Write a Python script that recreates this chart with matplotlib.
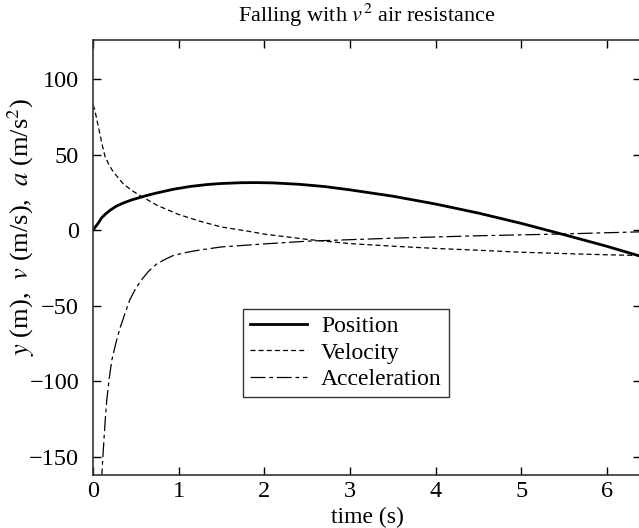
import numpy as np
import matplotlib
matplotlib.use("Agg")
import matplotlib.pyplot as plt

# values
pos_t = [0, 0.03, 0.06, 0.1, 0.15, 0.2, 0.27, 0.35, 0.45, 0.55, 0.65, 0.75, 0.94, 1.13,
         1.33, 1.5, 1.72, 1.9, 2.1, 2.4, 2.7, 3.0, 3.5, 4.0, 4.5, 5.0, 5.5, 6.0, 6.4]
pos_y = [0, 2.4, 4.6, 8.2, 11.0, 13.3, 15.9, 18.0, 20.1, 21.8, 23.4, 24.8, 27.2, 29.0,
         30.3, 31.0, 31.5, 31.6, 31.4, 30.5, 29.0, 26.8, 22.6, 17.4, 11.4, 4.6, -2.9, -10.6, -17.3]

vel_t = [0, 0.02, 0.05, 0.08, 0.11, 0.14, 0.19, 0.24, 0.35, 0.45, 0.55, 0.75, 1.0, 1.25,
         1.5, 1.8, 2.0, 2.5, 3.0, 3.5, 4.0, 4.5, 5.0, 5.5, 6.0, 6.4]
vel_v = [83, 80, 72, 64, 56, 49, 43, 38.5, 31, 26.5, 23, 16.5, 10.5, 6.0,
         2.2, -0.5, -2.5, -6.0, -8.8, -10.5, -12.0, -13.2, -14.5, -15.4, -16.2, -16.7]

acc_t = [0.09, 0.1, 0.11, 0.12, 0.14, 0.16, 0.19, 0.22, 0.27, 0.32, 0.38, 0.43, 0.49, 0.55,
         0.65, 0.75, 0.85, 0.94, 1.1, 1.25, 1.5, 2.0, 2.5, 3.0, 3.5, 4.0, 4.5, 5.0, 5.5, 6.0, 6.4]
acc_a = [-185, -165, -155, -146, -128, -113, -98, -86, -74, -64, -54, -46, -39.5, -34,
         -27, -22, -19, -16.6, -14.5, -13.0, -11.0, -9.0, -7.2, -6.2, -5.2, -4.4, -3.6, -3.0,
         -2.4, -1.6, -1.0]

xticks = [0, 1, 2, 3, 4, 5, 6]
yticks = [-150, -100, -50, 0, 50, 100]

plt.rcParams['font.family'] = ['Liberation Serif', 'DejaVu Serif']
plt.rcParams['mathtext.fontset'] = 'stix'

fig = plt.figure(figsize=(6.39, 5.28), dpi=100)
ax = fig.add_axes([0.1455, 0.1004, 0.858, 0.8238])

ax.plot(pos_t, pos_y, color='black', lw=2.0, label='Position')
ax.plot(vel_t, vel_v, color='black', lw=0.9, dashes=(4, 2.5), label='Velocity')
ax.plot(acc_t, acc_a, color='black', lw=0.9, dashes=(12, 3, 3, 3), label='Acceleration')

ax.set_xlim(0, 6.4)
ax.set_ylim(-162, 126)
ax.set_xticks(xticks)
ax.set_yticks(yticks)
ax.set_yticklabels([str(v).replace('-', '\u2212') for v in yticks])
ax.tick_params(direction='in', top=True, right=True, length=6, width=1, labelsize=17.5)
ax.tick_params(axis='x', pad=4)
ax.tick_params(axis='y', pad=10)
for s in ax.spines.values():
    s.set_color('#333333')
    s.set_linewidth(1.2)

ax.set_title('Falling with $v^2$ air resistance', fontsize=16, pad=13)
ax.set_xlabel('time (s)', fontsize=17, labelpad=4)
ax.set_ylabel(r'$y$ (m),  $v$ (m/s),  $a$ (m/s$^2$)', fontsize=19)
ax.yaxis.set_label_coords(-0.103, 0.57)

leg = ax.legend(loc='upper left', bbox_to_anchor=(0.274, 0.382), borderaxespad=0,
                fancybox=False, framealpha=1, edgecolor='#333333', fontsize=17,
                handlelength=2.4, labelspacing=0.2, borderpad=0.3, handletextpad=0.6)
leg.get_frame().set_linewidth(1.0)

fig.savefig('out.png', dpi=100)
